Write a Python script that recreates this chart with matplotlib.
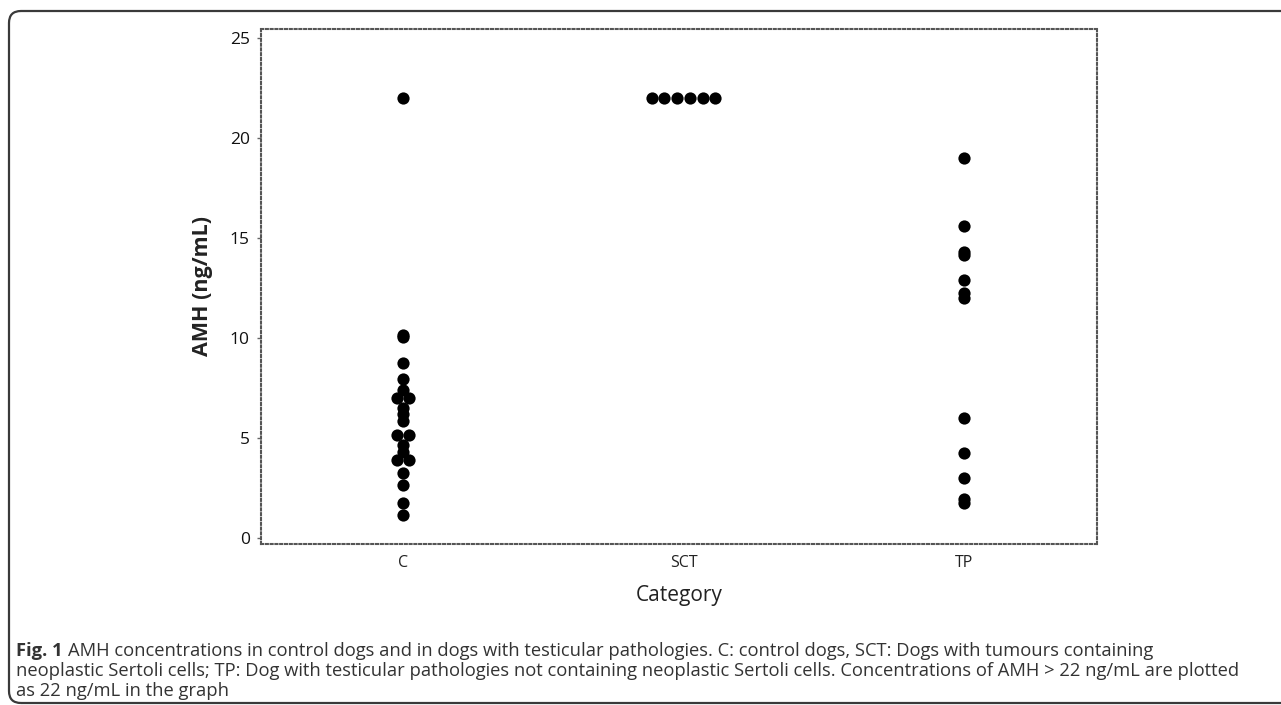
import matplotlib
matplotlib.use("Agg")
import matplotlib.pyplot as plt
from matplotlib.patches import FancyBboxPatch
import numpy as np

# values (ng/mL); >22 plotted as 22
categories = ["C", "SCT", "TP"]
c_values = [22.0, 10.15, 10.05, 8.75, 7.95, 7.4, 7.0, 7.0, 6.5, 6.2, 5.85,
            5.15, 5.15, 4.65, 4.3, 3.9, 3.9, 3.25, 2.65, 1.75, 1.15]
sct_values = [22.0, 22.0, 22.0, 22.0, 22.0, 22.0]
tp_values = [19.0, 15.6, 14.3, 14.15, 12.9, 12.25, 12.0, 6.0, 4.25, 3.0, 1.95, 1.75]
yticks = [0, 5, 10, 15, 20, 25]

caption_lines = [
    "AMH concentrations in control dogs and in dogs with testicular pathologies. C: control dogs, SCT: Dogs with tumours containing",
    "neoplastic Sertoli cells; TP: Dog with testicular pathologies not containing neoplastic Sertoli cells. Concentrations of AMH > 22 ng/mL are plotted",
    "as 22 ng/mL in the graph",
]


def side_by_side(vals, spacing):
    # equal values are placed next to each other, like an individual value plot
    offs = np.zeros(len(vals))
    vals = np.asarray(vals)
    for v in np.unique(vals):
        idx = np.where(vals == v)[0]
        n = len(idx)
        offs[idx] = (np.arange(n) - (n - 1) / 2) * spacing
    return offs


fig = plt.figure(figsize=(12.81, 7.05), dpi=100)
ax = fig.add_axes([261 / 1281, 1 - 544 / 705, 836 / 1281, 515 / 705])

spacing = 0.0456
for i, vals in enumerate([c_values, sct_values, tp_values]):
    x = i + 1 + side_by_side(vals, spacing)
    ax.plot(x, vals, "o", color="black", markersize=8.8, markeredgewidth=0)

ax.set_xlim(0.494, 3.474)
ax.set_ylim(-0.3, 25.45)
ax.set_xticks([1, 2, 3])
ax.set_xticklabels(categories, fontsize=11.5, family="Open Sans", color="#222222")
ax.set_yticks(yticks)
ax.set_yticklabels([str(t) for t in yticks], fontsize=12.5, family="Open Sans", color="#111111")
ax.tick_params(axis="y", length=3, width=1, color="#666666", pad=5)
ax.tick_params(axis="x", length=0, pad=8)
for s in ax.spines.values():
    s.set_linestyle((0, (1, 1.3)))
    s.set_color("#555555")
    s.set_linewidth(1.5)

ax.set_ylabel("AMH (ng/mL)", fontsize=15.5, family="Open Sans", fontweight="bold",
              color="#222222", labelpad=12)
ax.set_xlabel("Category", fontsize=15, family="Open Sans", color="#222222", labelpad=10)

# figure frame with rounded corner
frame = FancyBboxPatch((9, 2), 1400, 692, boxstyle="round,pad=0,rounding_size=12",
                       transform=None, fill=False, edgecolor="#3a3a3a", linewidth=1.6)
fig.add_artist(frame)

# caption
ys = [651, 671, 691]
fs = 13.2
t0 = fig.text(16 / 1281, 1 - ys[0] / 705, "Fig. 1", fontsize=fs, family="Open Sans",
              fontweight="bold", color="#333333", va="center")
fig.canvas.draw()
r = fig.canvas.get_renderer()
bb = t0.get_window_extent(r)
fig.text((bb.x1 + 5) / 1281, 1 - ys[0] / 705, caption_lines[0], fontsize=fs,
         family="Open Sans", color="#333333", va="center")
for k in (1, 2):
    fig.text(16 / 1281, 1 - ys[k] / 705, caption_lines[k], fontsize=fs,
             family="Open Sans", color="#333333", va="center")

fig.savefig("out.png", dpi=100)
